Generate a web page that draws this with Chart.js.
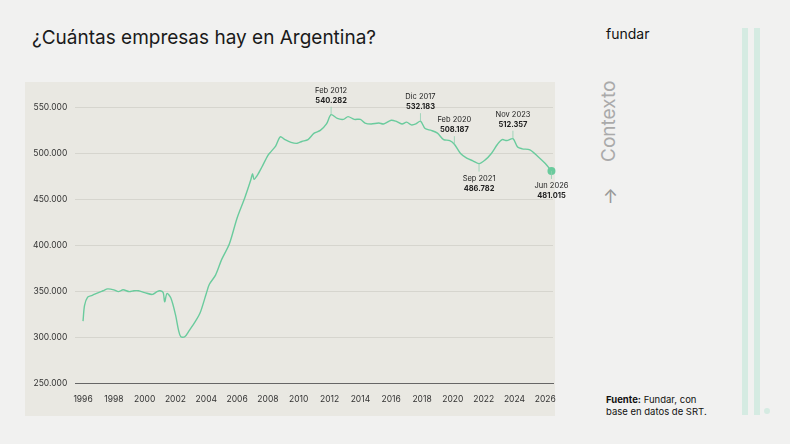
<!DOCTYPE html>
<html><head><meta charset="utf-8">
<script src="https://cdn.jsdelivr.net/npm/chart.js@4"></script>
<style>
body{margin:0;width:790px;height:444px;background:#f1f1f0;font-family:Inter,"Liberation Sans",sans-serif;position:relative;overflow:hidden}
#title{position:absolute;left:32px;top:26px;font-size:19px;color:#1a1a1a}
#panel{position:absolute;left:25px;top:82px;width:530px;height:334px;background:#e9e8e2}
#c{position:absolute;left:25px;top:82px}
#brand{position:absolute;left:606px;top:25px;font-size:14px;color:#111}
#ctx{position:absolute;transform:rotate(-90deg);transform-origin:center;font-size:19px;color:#aaa;width:80px;height:24px;left:569px;top:110px;text-align:center}
#arrow{position:absolute;left:603px;top:186px;font-size:18px;color:#999}
.bar{position:absolute;top:28px;width:6px;height:387px;background:#d5ebe2}
#dot{position:absolute;left:764px;top:408px;width:6px;height:6px;border-radius:3px;background:#d5ebe2}
#src{position:absolute;left:606px;top:394px;font-size:9.5px;line-height:12px;color:#111}
</style></head><body>
<div id="title">¿Cuántas empresas hay en Argentina?</div>
<div id="panel"></div>
<canvas id="c" width="560" height="334"></canvas>
<div id="brand">fundar</div>
<div id="ctx">Contexto</div>
<div id="arrow">↑</div>
<div class="bar" style="left:742px"></div>
<div class="bar" style="left:754px"></div>
<div id="dot"></div>
<div id="src"><b>Fuente:</b> Fundar, con<br>base en datos de SRT.</div>
<script>
const years=[1996.0,1996.1,1996.3,1996.6,1997.0,1997.3,1997.6,1998.0,1998.3,1998.6,1999.0,1999.3,1999.6,2000.0,2000.5,2000.8,2001.0,2001.2,2001.3,2001.45,2001.7,2002.0,2002.2,2002.35,2002.6,2002.9,2003.3,2003.6,2004.0,2004.2,2004.6,2005.0,2005.5,2006.0,2006.5,2006.9,2007.0,2007.1,2007.3,2007.6,2008.0,2008.2,2008.5,2008.8,2009.1,2009.5,2009.9,2010.2,2010.6,2011.0,2011.4,2011.8,2012.1,2012.5,2012.9,2013.2,2013.6,2014.0,2014.3,2014.7,2015.2,2015.5,2016.0,2016.3,2016.7,2017.0,2017.3,2017.6,2017.9,2018.2,2018.6,2019.0,2019.4,2019.8,2020.1,2020.5,2020.9,2021.3,2021.7,2022.1,2022.5,2022.9,2023.2,2023.5,2023.9,2024.2,2024.5,2025.0,2025.5,2026.0,2026.4];
const values=[318,335,344,346,349,351,353,352,350,352,350,351,351,349,347,350,351,349,339,348,343,325,308,301,301,308,318,327,348,358,368,385,402,430,452,472,478,472,476,485,498,502,508,518,515,512,511,513,515,522,525,532,542,538,537,540,537,537,533,532,533,532,536,535,532,534,531,532,535,527,525,522,515,514,510,500,495,492,489,493,500,510,515,514,516,507,505,504,497,489,481.015];
const annX=[2012.1,2017.9,2020.1,2021.7,2023.9,2026.4];
const annY=[542,535,510,489,516,481];
const annT=["Feb 2012","Dic 2017","Feb 2020","Sep 2021","Nov 2023","Jun 2026"];
const annV=["540.282","532.183","508.187","486.782","512.357","481.015"];
const annBelow=[false,false,false,true,false,true];
const pts=years.map((x,i)=>({x,y:values[i]*1000}));
const annPlugin={id:'ann',afterDatasetsDraw(ch){const c=ch.ctx,xs=ch.scales.x,ys=ch.scales.y;c.save();c.textAlign='center';c.fillStyle='#222';
annX.forEach((x,i)=>{const px=xs.getPixelForValue(x),py=ys.getPixelForValue(annY[i]*1000);
c.strokeStyle='#8fcfb0';c.lineWidth=0.8;c.beginPath();
if(annBelow[i]){c.moveTo(px,py);c.lineTo(px,py+8);c.stroke();c.font='7.5px Inter';c.fillText(annT[i],px,py+17);c.font='bold 7.5px Inter';c.fillText(annV[i],px,py+27);}
else{c.moveTo(px,py);c.lineTo(px,py-8);c.stroke();c.font='7.5px Inter';c.fillText(annT[i],px,py-22);c.font='bold 7.5px Inter';c.fillText(annV[i],px,py-12);}
});c.restore();}};
new Chart(document.getElementById('c'),{type:'line',
data:{datasets:[{data:pts,borderColor:'#6acb9d',borderWidth:1.4,tension:0.3,clip:false,
pointRadius:pts.map((p,i)=>i==pts.length-1?4:0),pointBackgroundColor:'#6acb9d',pointBorderWidth:0}]},
options:{responsive:false,animation:false,layout:{padding:{left:0,right:32,top:18,bottom:8}},
plugins:{legend:{display:false},tooltip:{enabled:false}},
scales:{x:{type:'linear',min:1995.5,max:2026.5,afterBuildTicks(a){a.ticks=[];for(let y=1996;y<=2026;y+=2)a.ticks.push({value:y});},
grid:{display:false},border:{display:true,color:'#666',width:1},
ticks:{color:'#333',font:{size:8.5,family:'Inter'},callback:v=>String(v)}},
y:{min:250000,max:558000,afterBuildTicks(a){a.ticks=[];for(let v=250000;v<=550000;v+=50000)a.ticks.push({value:v});},
grid:{color:'#d6d5ce',drawTicks:false},border:{display:false},
ticks:{color:'#333',padding:8,font:{size:8.5,family:'Inter'},callback:v=>v.toLocaleString('de-DE')}}}},
plugins:[annPlugin]});
</script></body></html>
